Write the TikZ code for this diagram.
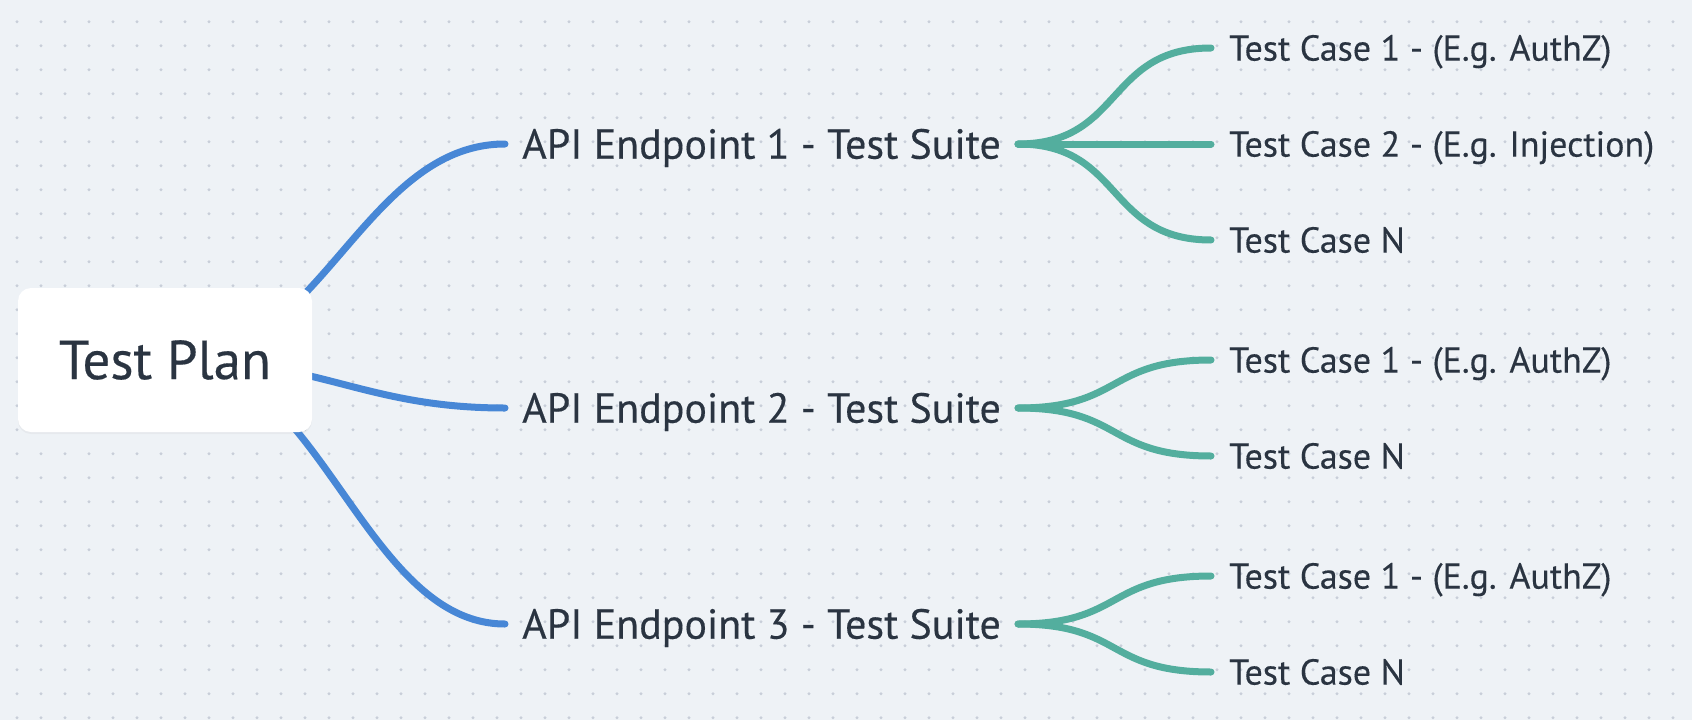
\documentclass[tikz,border=0pt]{standalone}
\usepackage{fontspec}
\setmainfont[FakeBold=0.3]{PT Sans}
\usetikzlibrary{shadows}
\pgfdeclarelayer{background}
\pgfdeclarelayer{edges}
\pgfsetlayers{background,edges,main}
\definecolor{bgc}{HTML}{EEF2F6}
\definecolor{dotc}{HTML}{C8CED9}
\definecolor{bluec}{HTML}{4787D6}
\definecolor{tealc}{HTML}{53AE9E}
\definecolor{textc}{HTML}{2A3441}
\begin{document}
\begin{tikzpicture}[x=1pt,y=-1pt,
  rootbox/.style={fill=white, rounded corners=13pt, minimum width=294pt, minimum height=144pt,
    inner sep=0pt, text=textc, font=\fontsize{55}{60}\selectfont,
    drop shadow={opacity=0.07, shadow xshift=0pt, shadow yshift=-2pt}},
  suite/.style={anchor=west, inner xsep=17pt, inner ysep=0pt, text height=29.4pt, text depth=0pt,
    text=textc, font=\fontsize{42}{48}\selectfont},
  case/.style={anchor=west, inner xsep=18pt, inner ysep=0pt, text height=25.2pt, text depth=0pt,
    text=textc, font=\fontsize{36}{42}\selectfont},
  blueedge/.style={draw=bluec, line width=7pt, line cap=round},
  tealedge/.style={draw=tealc, line width=7pt, line cap=round},
]
\useasboundingbox (0,0) rectangle (1692,720);
\begin{pgfonlayer}{background}
  \fill[bgc] (0,0) rectangle (1692,720);
  \foreach \i in {0,...,70} {
    \foreach \j in {0,...,29} {
      \fill[dotc] (17+24*\i, 21.7+24*\j) circle (1.6pt);
    }
  }
\end{pgfonlayer}

\node[rootbox] (tp) at (165,360) {Test Plan};

\node[suite] (s1) at (505,144) {API Endpoint 1 - Test Suite};
\node[suite] (s2) at (505,408) {API Endpoint 2 - Test Suite};
\node[suite] (s3) at (505,624) {API Endpoint 3 - Test Suite};

\node[case] (c11) at (1211,48)  {Test Case 1 - (E.g. AuthZ)};
\node[case] (c12) at (1211,144) {Test Case 2 - (E.g. Injection)};
\node[case] (c13) at (1211,240) {Test Case N};
\node[case] (c21) at (1211,360) {Test Case 1 - (E.g. AuthZ)};
\node[case] (c22) at (1211,456) {Test Case N};
\node[case] (c31) at (1211,576) {Test Case 1 - (E.g. AuthZ)};
\node[case] (c32) at (1211,672) {Test Case N};

\begin{pgfonlayer}{edges}
  \draw[blueedge] ([xshift=14pt]tp.center) .. controls +(140,0) and +(-140,0) .. (s1.west);
  \draw[blueedge] ([xshift=14pt]tp.center) .. controls +(140,0) and +(-140,0) .. (s2.west);
  \draw[blueedge] ([xshift=14pt]tp.center) .. controls +(140,0) and +(-140,0) .. (s3.west);

  \draw[tealedge] (s1.east) .. controls +(105,0) and +(-105,0) .. (c11.west);
  \draw[tealedge] (s1.east) -- (c12.west);
  \draw[tealedge] (s1.east) .. controls +(105,0) and +(-105,0) .. (c13.west);
  \draw[tealedge] (s2.east) .. controls +(105,0) and +(-105,0) .. (c21.west);
  \draw[tealedge] (s2.east) .. controls +(105,0) and +(-105,0) .. (c22.west);
  \draw[tealedge] (s3.east) .. controls +(105,0) and +(-105,0) .. (c31.west);
  \draw[tealedge] (s3.east) .. controls +(105,0) and +(-105,0) .. (c32.west);
\end{pgfonlayer}
\end{tikzpicture}
\end{document}
